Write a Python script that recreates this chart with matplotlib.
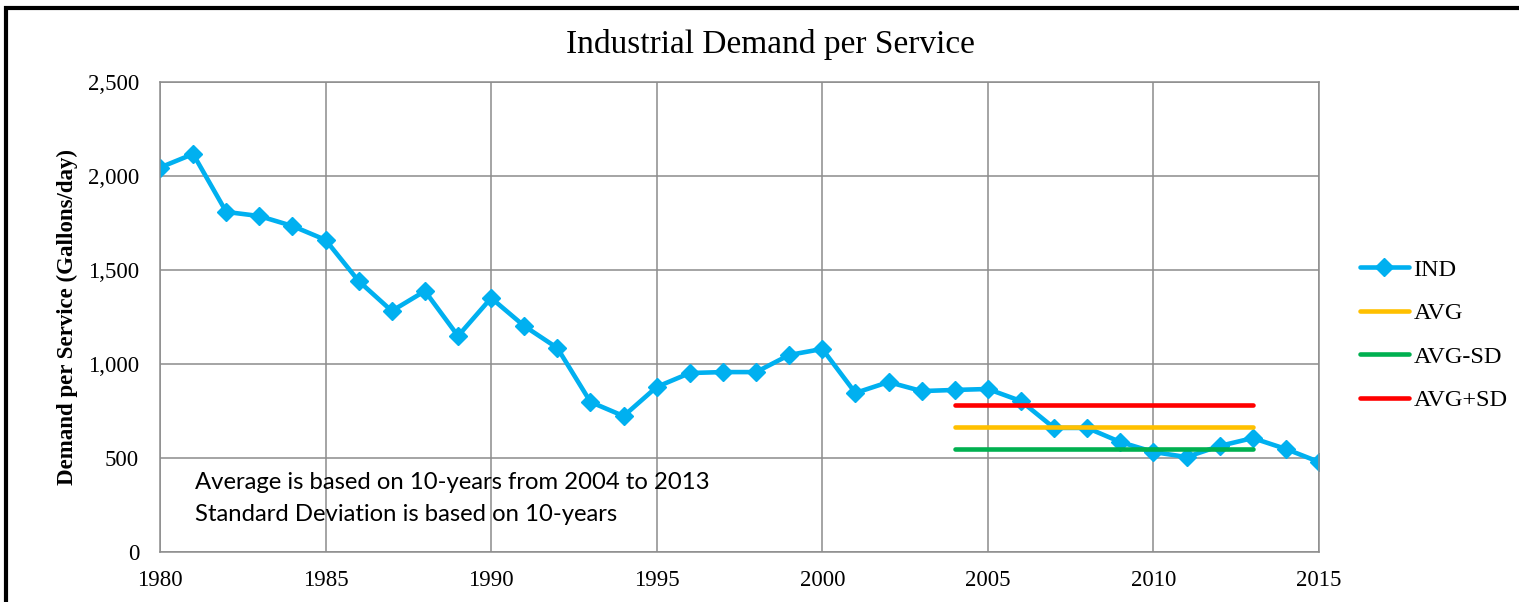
import matplotlib
matplotlib.use("Agg")
import matplotlib.pyplot as plt
from matplotlib.patches import Rectangle

# Data
years = list(range(1980, 2016))
ind = [2045, 2117, 1809, 1787, 1734, 1660, 1441, 1282, 1388, 1149,
       1351, 1202, 1085, 798, 723, 878, 952, 957, 957, 1048,
       1080, 846, 904, 856, 862, 867, 803, 660, 660, 585,
       532, 505, 564, 606, 548, 479]
avg_years = [2004, 2013]
avg = 664.4
avg_minus_sd = 548
avg_plus_sd = 782

yticks = [0, 500, 1000, 1500, 2000, 2500]
xticks = [1980, 1985, 1990, 1995, 2000, 2005, 2010, 2015]

serif = "Liberation Serif"
grid_col = "#8c8c8c"

fig = plt.figure(figsize=(15.19, 6.02), dpi=100)
ax = fig.add_axes([160 / 1519, 1 - 552 / 602, 1159 / 1519, 470 / 602])

ax.plot(years, ind, color="#00B0F0", lw=3.3, marker="D", ms=9,
        solid_capstyle="round", label="IND")
ax.plot(avg_years, [avg, avg], color="#FFC000", lw=3.3,
        solid_capstyle="round", label="AVG")
ax.plot(avg_years, [avg_minus_sd, avg_minus_sd], color="#00B050", lw=3.3,
        solid_capstyle="round", label="AVG-SD")
ax.plot(avg_years, [avg_plus_sd, avg_plus_sd], color="#FF0000", lw=3.3,
        solid_capstyle="round", label="AVG+SD")

ax.set_xlim(1980, 2015)
ax.set_ylim(0, 2500)
ax.set_xticks(xticks)
ax.set_yticks(yticks)
ax.set_yticklabels([f"{v:,}" for v in yticks])
ax.grid(True, color=grid_col, lw=1.1)
ax.set_axisbelow(True)
for s in ax.spines.values():
    s.set_color(grid_col)
    s.set_linewidth(1.1)
ax.tick_params(length=0, labelsize=16.5)
ax.tick_params(axis="x", pad=13)
ax.tick_params(axis="y", pad=15)
for lab in ax.get_xticklabels() + ax.get_yticklabels():
    lab.set_fontfamily(serif)

ax.set_ylabel("Demand per Service (Gallons/day)", fontsize=16.5,
              fontweight="bold", fontfamily=serif)
ax.yaxis.set_label_coords(-0.071, 0.5)

fig.text(770 / 1519, 1 - 45 / 602, "Industrial Demand per Service",
         fontsize=24, fontfamily=serif, ha="center", va="center")

fig.text(195 / 1519, 1 - 472 / 602,
         "Average is based on 10-years from 2004 to 2013\n"
         "Standard Deviation is based on 10-years",
         fontsize=17.2, fontfamily="Lato", ha="left", va="top",
         linespacing=1.62)

fig.legend(loc="center left", bbox_to_anchor=(1360 / 1519, 1 - 335 / 602),
           frameon=False, borderpad=0, borderaxespad=0,
           handlelength=2.0, handletextpad=0.2, labelspacing=0.88,
           prop={"family": serif, "size": 17.5})

# thick black frame around the chart (right/bottom fall outside the image)
fig.add_artist(Rectangle((6.5 / 1519, -0.5), 2, 0.5 + 1 - 8 / 602,
                         transform=fig.transFigure, fill=False,
                         ec="black", lw=3, clip_on=False))

fig.savefig("out.png", dpi=100)
